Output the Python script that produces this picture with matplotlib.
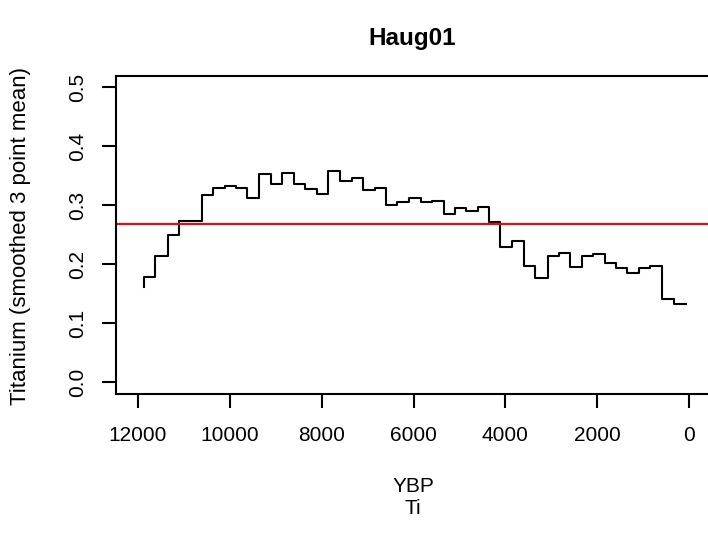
import matplotlib
matplotlib.use("Agg")
import matplotlib.pyplot as plt

# Age (years BP), ordered young -> old, and smoothed titanium values
ybp = [65, 326, 580, 848, 1087, 1341, 1593, 1826, 2080, 2333, 2587, 2841,
       3080, 3348, 3602, 3854, 4109, 4348, 4602, 4848, 5102, 5341, 5593,
       5833, 6102, 6354, 6593, 6848, 7102, 7348, 7602, 7863, 8109, 8370,
       8602, 8854, 9109, 9363, 9630, 9870, 10115, 10370, 10615, 10865,
       11115, 11354, 11624, 11876]
ti = [0.132, 0.142, 0.197, 0.193, 0.185, 0.193, 0.202, 0.218, 0.214, 0.196,
      0.219, 0.214, 0.177, 0.197, 0.239, 0.229, 0.271, 0.297, 0.290, 0.296,
      0.285, 0.307, 0.305, 0.313, 0.305, 0.301, 0.330, 0.326, 0.346, 0.342,
      0.358, 0.320, 0.327, 0.337, 0.355, 0.337, 0.353, 0.313, 0.329, 0.333,
      0.329, 0.317, 0.273, 0.273, 0.249, 0.214, 0.178, 0.161]
mean_line = 0.268

xticks = [12000, 10000, 8000, 6000, 4000, 2000, 0]
yticks = [0.0, 0.1, 0.2, 0.3, 0.4, 0.5]

plt.rcParams['font.family'] = ['Liberation Sans', 'DejaVu Sans']

W, H = 708, 535
fig = plt.figure(figsize=(W / 100, H / 100), dpi=100)
ax = fig.add_axes([116 / W, 1 - 394 / H, (711 - 116) / W, (394 - 75.7) / H])

ax.plot(ybp, ti, drawstyle='steps-post', color='black', lw=1.5)
ax.axhline(mean_line, color='#ff0000', lw=1.5)

ax.set_xlim(12480, -480)
ax.set_ylim(-0.02, 0.52)
ax.set_xticks(xticks)
ax.set_xticklabels([str(v) for v in xticks])
ax.set_yticks(yticks)
ax.set_yticklabels([f"{v:.1f}" for v in yticks])

FS = 15
for s in ax.spines.values():
    s.set_linewidth(1.5)
ax.tick_params(axis='both', length=10, width=1.5, labelsize=FS, colors='black')
ax.tick_params(axis='x', pad=13)
ax.tick_params(axis='y', pad=11)
for lab in ax.get_yticklabels():
    lab.set_rotation(90)
    lab.set_va('center')
    lab.set_ha('right')

fig.text(412 / W, 1 - 38 / H, "Haug01", ha='center', va='center',
         fontsize=17.5, fontweight='bold')
fig.text(413 / W, 1 - 486 / H, "YBP", ha='center', va='center', fontsize=FS)
fig.text(413 / W, 1 - 508 / H, "Ti", ha='center', va='center', fontsize=FS)
fig.text(21 / W, 1 - 236 / H, "Titanium (smoothed 3 point mean)", rotation=90,
         ha='center', va='center', fontsize=16)

fig.savefig("out.png", dpi=100)
